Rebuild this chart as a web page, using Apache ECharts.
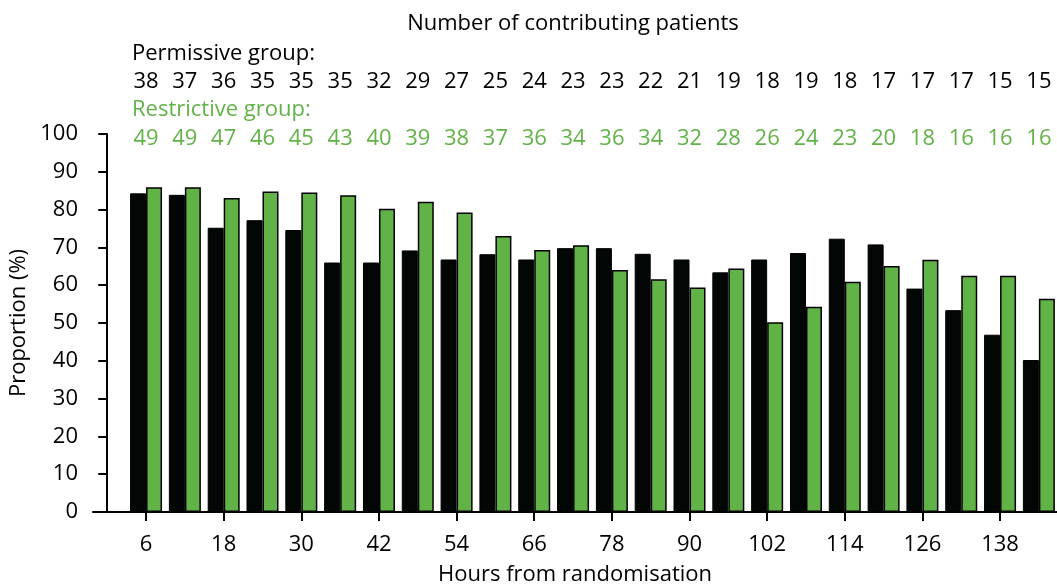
<!DOCTYPE html>
<html>
<head>
<meta charset="utf-8">
<script src="https://cdn.jsdelivr.net/npm/echarts@6/dist/echarts.min.js"></script>
<style>html,body{margin:0;padding:0;background:#fff}#c{width:1057px;height:587px}</style>
</head>
<body>
<div id="c"></div>
<script>
const hours = [6,12,18,24,30,36,42,48,54,60,66,72,78,84,90,96,102,108,114,120,126,132,138,144];
const tickHours = [6,18,30,42,54,66,78,90,102,114,126,138];
const permissive = [84.3,83.9,75.2,77.2,74.6,66.0,66.0,69.2,66.8,68.2,66.8,69.8,69.8,68.3,66.8,63.4,66.8,68.5,72.3,70.8,59.1,53.4,46.9,40.2];
const restrictive = [85.9,85.9,83.1,84.8,84.5,83.8,80.2,82.1,79.2,73.0,69.3,70.6,64.0,61.6,59.4,64.4,50.2,54.3,60.9,65.1,66.7,62.5,62.5,56.4];
const permissiveN = [38,37,36,35,35,35,32,29,27,25,24,23,23,22,21,19,18,19,18,17,17,17,15,15];
const restrictiveN = [49,49,47,46,45,43,40,39,38,37,36,34,36,34,32,28,26,24,23,20,18,16,16,16];

const GREEN = '#62b347';
const FONT = 'Open Sans';
const FS = 22;
const chart = echarts.init(document.getElementById('c'), null, {renderer:'canvas'});
const xMin = -2.2, xMax = 146.8;
function countAxis(counts, color, margin) {
  return {
    type:'value', position:'top', min:xMin, max:xMax, gridIndex:0,
    axisLine:{show:false}, axisTick:{show:false}, splitLine:{show:false},
    axisLabel:{
      customValues: hours, margin: margin, verticalAlign:'middle',
      color: color, fontFamily: FONT, fontSize: FS,
      formatter: v => { const i = hours.indexOf(v); return i >= 0 ? String(counts[i]) : ''; }
    }
  };
}
const tStyle = c => ({fontFamily:FONT, fontSize:FS, fontWeight:'normal', color:c});
chart.setOption({
  animation:false,
  backgroundColor:'#fff',
  title:[
    {text:'Number of contributing patients', left:573, top:13, textAlign:'center', padding:0, textStyle:tStyle('#000')},
    {text:'Permissive group:', left:132, top:43, padding:0, textStyle:tStyle('#000')},
    {text:'Restrictive group:', left:132, top:99, padding:0, textStyle:tStyle(GREEN)}
  ],
  grid:{left:93, right:0, top:134, bottom:75, outerBoundsMode:'none', containLabel:false},
  xAxis:[
    {
      type:'value', min:xMin, max:xMax, position:'bottom',
      name:'Hours from randomisation', nameLocation:'middle', nameGap:52,
      nameTextStyle:{fontFamily:FONT, fontSize:FS, color:'#000'},
      axisLine:{show:true, lineStyle:{color:'#000', width:2}},
      axisTick:{show:true, customValues: tickHours, length:9, lineStyle:{color:'#000', width:2}},
      axisLabel:{customValues: tickHours, margin:22, fontFamily:FONT, fontSize:FS, color:'#000'},
      splitLine:{show:false}
    },
    countAxis(restrictiveN, GREEN, -5),
    countAxis(permissiveN, '#000', 52)
  ],
  yAxis:{
    type:'value', min:0, max:100, interval:10,
    name:'Proportion (%)', nameLocation:'middle', nameGap:60, nameRotate:90,
    nameTextStyle:{fontFamily:FONT, fontSize:FS, color:'#000'},
    axisLine:{show:true, lineStyle:{color:'#000', width:2}},
    axisTick:{show:true, length:9, lineStyle:{color:'#000', width:2}},
    axisLabel:{margin:15, fontFamily:FONT, fontSize:FS, color:'#000'},
    splitLine:{show:false}
  },
  series:[
    {name:'Permissive group', type:'bar', barWidth:16, barGap:'0%',
     data: hours.map((h,i)=>[h, permissive[i]]),
     itemStyle:{color:'#020604', borderColor:'#000', borderWidth:1}},
    {name:'Restrictive group', type:'bar', barWidth:16, barGap:'0%',
     data: hours.map((h,i)=>[h, restrictive[i]]),
     itemStyle:{color:GREEN, borderColor:'#000', borderWidth:1.5}}
  ]
});
</script>
</body>
</html>
